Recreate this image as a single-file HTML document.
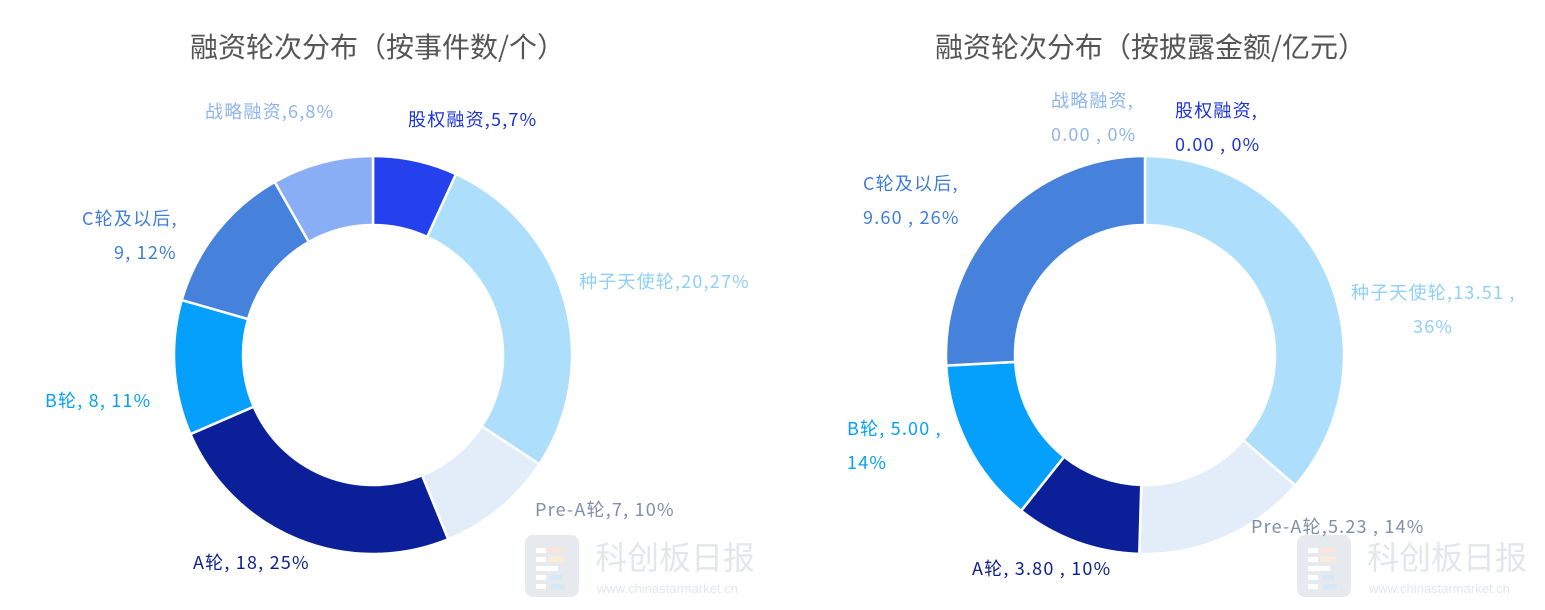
<!DOCTYPE html>
<html><head><meta charset="utf-8">
<style>
html,body{margin:0;padding:0;background:#fff;}
body{width:1545px;height:610px;position:relative;overflow:hidden;font-family:"Noto Sans CJK SC","Liberation Sans",sans-serif;}
.t{position:absolute;font-size:28px;color:#555;white-space:nowrap;line-height:40px;}
.l{position:absolute;font-size:18px;letter-spacing:1.2px;white-space:nowrap;line-height:34px;}
</style></head><body>
<div class="t" style="left:190px;top:26px;">融资轮次分布（按事件数/个）</div>
<div class="t" style="left:935px;top:26px;">融资轮次分布（按披露金额/亿元）</div>

<svg id="chart" width="1545" height="610" style="position:absolute;left:0;top:0">
  <g id="wm1">
    <rect x="525" y="535" width="54" height="62" rx="8" fill="#e6e9ed"/>
    <rect x="536" y="548" width="10" height="5" fill="#fff"/><rect x="548" y="548" width="16" height="5" fill="#fde3dc"/>
    <rect x="536" y="557" width="10" height="5" fill="#fff"/><rect x="548" y="557" width="16" height="5" fill="#fdebd3"/>
    <rect x="536" y="566" width="22" height="5" fill="#fff"/>
    <rect x="536" y="575" width="10" height="5" fill="#fff"/><rect x="551" y="575" width="12" height="5" fill="#d6e8f7"/>
    <rect x="536" y="584" width="10" height="5" fill="#fff"/><rect x="551" y="584" width="14" height="5" fill="#d6e8f7"/>
    <text x="595" y="569" font-size="32" fill="#e3e6ea" font-family="Noto Sans CJK SC, sans-serif">科创板日报</text>
    <text x="597" y="593" font-size="13" fill="#e3e6ea" font-family="Liberation Sans, sans-serif">www.chinastarmarket.cn</text>
  </g>
  <g id="wm2">
    <rect x="1297" y="535" width="54" height="62" rx="8" fill="#e6e9ed"/>
    <rect x="1308" y="548" width="10" height="5" fill="#fff"/><rect x="1320" y="548" width="16" height="5" fill="#fde3dc"/>
    <rect x="1308" y="557" width="10" height="5" fill="#fff"/><rect x="1320" y="557" width="16" height="5" fill="#fdebd3"/>
    <rect x="1308" y="566" width="22" height="5" fill="#fff"/>
    <rect x="1308" y="575" width="10" height="5" fill="#fff"/><rect x="1323" y="575" width="12" height="5" fill="#d6e8f7"/>
    <rect x="1308" y="584" width="10" height="5" fill="#fff"/><rect x="1323" y="584" width="14" height="5" fill="#d6e8f7"/>
    <text x="1367" y="569" font-size="32" fill="#e3e6ea" font-family="Noto Sans CJK SC, sans-serif">科创板日报</text>
    <text x="1369" y="593" font-size="13" fill="#e3e6ea" font-family="Liberation Sans, sans-serif">www.chinastarmarket.cn</text>
  </g>
</svg>

<div class="l" style="left:205px;top:94px;color:#8db4ec">战略融资,6,8%</div>
<div class="l" style="left:408px;top:102px;color:#1a33d8">股权融资,5,7%</div>
<div class="l" style="left:579px;top:264px;color:#8fd0fb">种子天使轮,20,27%</div>
<div class="l" style="left:535px;top:492px;color:#7f8fa8">Pre-A轮,7, 10%</div>
<div class="l" style="left:193px;top:545px;color:#0b1f8f">A轮, 18, 25%</div>
<div class="l" style="left:45px;top:383px;color:#04a0fc">B轮, 8, 11%</div>
<div class="l" style="left:82px;top:201px;color:#3f7ddc">C轮及以后,<br><span style="padding-left:32px">9, 12%</span></div>

<div class="l" style="left:1051px;top:83px;color:#8db4ec">战略融资,<br>0.00 , 0%</div>
<div class="l" style="left:1175px;top:93px;color:#1a33d8">股权融资,<br>0.00 , 0%</div>
<div class="l" style="left:1351px;top:275px;color:#8fd0fb">种子天使轮,13.51 ,<br><span style="padding-left:62px">36%</span></div>
<div class="l" style="left:1251px;top:509px;color:#7f8fa8">Pre-A轮,5.23 , 14%</div>
<div class="l" style="left:972px;top:551px;color:#0b1f8f">A轮, 3.80 , 10%</div>
<div class="l" style="left:847px;top:411px;color:#04a0fc">B轮, 5.00 ,<br>14%</div>
<div class="l" style="left:863px;top:166px;color:#3f7ddc">C轮及以后,<br>9.60 , 26%</div>

<script>
const categories = ['股权融资','种子天使轮','Pre-A轮','A轮','B轮','C轮及以后','战略融资'];
const countValues = [5,20,7,18,8,9,6];
const amountValues = [0,13.51,5.23,3.80,5.00,9.60,0];
const sliceColors = ['#2541ee','#addffd','#e3edf9','#0b1f99','#04a0fc','#4682dc','#8aaef5'];
const NS='http://www.w3.org/2000/svg';
const svg=document.getElementById('chart');
function donut(values,cx,cy,R,r,prefix){
  const total=values.reduce((a,b)=>a+b,0);
  let a0=-Math.PI/2;
  values.forEach((v,i)=>{
    const a1=a0+v/total*2*Math.PI;
    if(v>0){
      const large=(a1-a0)>Math.PI?1:0;
      const p=(ang,rad)=>[cx+rad*Math.cos(ang),cy+rad*Math.sin(ang)];
      const [x0,y0]=p(a0,R),[x1,y1]=p(a1,R),[x2,y2]=p(a1,r),[x3,y3]=p(a0,r);
      const path=document.createElementNS(NS,'path');
      path.setAttribute('d',`M${x0},${y0}A${R},${R} 0 ${large} 1 ${x1},${y1}L${x2},${y2}A${r},${r} 0 ${large} 0 ${x3},${y3}Z`);
      path.setAttribute('fill',sliceColors[i]);
      path.setAttribute('stroke','#fff');
      path.setAttribute('stroke-width','2.5');
      
      
      svg.appendChild(path);
    }
    a0=a1;
  });
}
donut(countValues,373,355,199,130,'left');
donut(amountValues,1145,355,199,130,'right');
</script>
</body></html>
